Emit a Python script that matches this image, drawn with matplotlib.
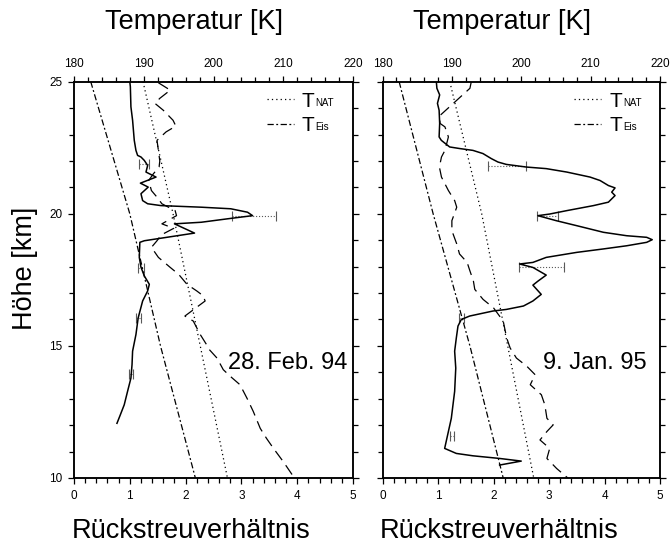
import matplotlib
matplotlib.use("Agg")
import matplotlib.pyplot as plt
from matplotlib.lines import Line2D
from matplotlib.ticker import MultipleLocator

plt.rcParams["font.family"] = ["Liberation Sans", "DejaVu Sans"]

# ---- left panel: 28. Feb. 94 ----
left_h = [25.0, 24.81, 24.05, 23.54, 22.78, 22.40, 22.21, 22.15, 22.02, 21.83,
          21.58, 21.39, 21.16, 21.01, 20.76, 20.50, 20.38, 20.31, 20.25, 20.19,
          20.06, 19.93, 19.81, 19.68, 19.62, 19.27, 18.98, 18.92, 18.35, 17.98,
          17.65, 17.33, 17.08, 16.70, 16.06, 15.43, 14.80, 14.29, 13.78, 13.28,
          12.77, 12.39, 12.07]
left_ratio = [1.00, 1.01, 1.02, 1.05, 1.08, 1.11, 1.14, 1.20, 1.26, 1.32,
              1.29, 1.47, 1.19, 1.33, 1.20, 1.23, 1.32, 1.56, 2.28, 2.81,
              3.11, 3.20, 2.75, 2.28, 1.80, 2.16, 1.26, 1.18, 1.17, 1.20,
              1.26, 1.35, 1.32, 1.23, 1.15, 1.11, 1.05, 1.04, 1.02, 0.96,
              0.90, 0.83, 0.77]

left_temp_h = [24.96, 24.68, 24.37, 24.18, 23.92, 23.54, 23.32, 23.10, 22.78, 22.40,
               22.00, 21.77, 21.52, 21.26, 20.88, 20.63, 20.38, 20.12, 19.93, 19.62,
               19.45, 19.20, 18.98, 18.73, 18.35, 17.97, 17.71, 17.33, 17.08, 16.90,
               16.70, 16.13, 15.94, 15.43, 15.05, 14.86, 14.54, 14.10, 13.85, 13.53,
               13.02, 12.52, 11.88, 11.50, 11.12, 10.62, 10.00]
left_temp = [192.1, 193.8, 192.3, 191.6, 192.8, 194.2, 194.6, 193.2, 191.9, 192.1,
             192.3, 192.2, 191.4, 190.7, 191.1, 191.9, 192.6, 194.5, 194.7, 192.6,
             194.3, 192.5, 191.9, 191.1, 192.1, 193.8, 195.0, 196.2, 197.6, 198.5,
             198.8, 195.9, 197.1, 198.1, 199.0, 199.4, 200.5, 201.4, 202.4, 203.8,
             204.8, 205.7, 206.7, 207.6, 208.6, 210.0, 211.6]

left_nat_h = [25.0, 20.0, 10.0]
left_nat = [189.9, 194.2, 202.0]
left_ice_h = [25.0, 20.0, 15.0, 10.0]
left_ice = [182.4, 188.0, 192.4, 197.4]

left_err_h = [21.9, 19.93, 17.95, 16.05, 13.95]
left_err_lo = [1.17, 2.84, 1.15, 1.12, 0.98]
left_err_hi = [1.35, 3.62, 1.25, 1.20, 1.06]

# ---- right panel: 9. Jan. 95 ----
right_h = [25.0, 24.75, 24.50, 24.18, 23.92, 23.42, 22.91, 22.78, 22.53, 22.47,
           22.40, 22.28, 22.09, 21.96, 21.87, 21.77, 21.71, 21.58, 21.39, 21.26,
           21.07, 20.98, 20.82, 20.69, 20.44, 20.31, 20.12, 19.99, 19.93, 19.74,
           19.55, 19.30, 19.17, 19.11, 19.02, 18.92, 18.79, 18.67, 18.54, 18.35,
           18.16, 18.10, 17.97, 17.68, 17.45, 17.30, 16.95, 16.70, 16.51, 16.38,
           16.32, 16.13, 16.00, 15.75, 15.30, 14.80, 14.16, 13.28, 12.26, 11.12,
           10.93, 10.84, 10.74, 10.64, 10.49]
right_ratio = [0.97, 0.98, 1.03, 0.99, 1.02, 1.03, 1.02, 1.06, 1.21, 1.39,
               1.63, 1.81, 1.96, 2.08, 2.23, 2.59, 2.95, 3.32, 3.74, 3.92,
               4.07, 4.19, 4.13, 4.19, 4.07, 3.80, 3.32, 3.01, 2.80, 3.13,
               3.50, 3.98, 4.40, 4.76, 4.86, 4.76, 4.40, 3.98, 3.50, 2.95,
               2.71, 2.47, 2.71, 2.95, 2.80, 2.71, 2.86, 2.71, 2.54, 2.23,
               1.99, 1.57, 1.42, 1.36, 1.33, 1.30, 1.32, 1.30, 1.24, 1.12,
               1.33, 1.63, 2.11, 2.50, 2.11]

right_temp_h = [25.0, 24.75, 23.70, 23.42, 23.29, 22.91, 22.40, 22.15, 21.77, 21.39,
                20.88, 20.50, 20.25, 19.74, 19.36, 18.86, 18.48, 18.16, 17.84, 17.46,
                17.14, 16.76, 16.44, 15.94, 15.30, 14.92, 14.54, 14.23, 13.91, 13.53,
                13.15, 12.77, 12.26, 12.01, 11.76, 11.44, 11.12, 10.74, 10.36, 9.98]
right_temp = [192.8, 192.6, 188.2, 188.3, 189.0, 189.5, 189.0, 188.5, 188.2, 188.5,
              189.5, 190.4, 190.7, 190.0, 190.0, 190.7, 191.1, 192.2, 192.6, 193.1,
              193.3, 194.5, 196.0, 197.4, 197.9, 198.4, 199.3, 200.8, 202.0, 201.3,
              202.9, 203.4, 203.7, 204.6, 203.7, 202.7, 204.1, 203.7, 205.1, 206.8]

right_nat_h = [25.0, 20.0, 10.0]
right_nat = [189.7, 194.3, 201.8]
right_ice_h = [25.0, 20.0, 15.0, 10.0]
right_ice = [182.4, 187.3, 192.6, 197.4]

right_err_h = [21.8, 19.93, 17.97, 16.05, 11.6]
right_err_lo = [1.90, 2.78, 2.46, 1.38, 1.22]
right_err_hi = [2.59, 3.16, 3.27, 1.46, 1.28]

dates = ["28. Feb. 94", "9. Jan. 95"]
legend_subs = ["NAT", "Eis"]

STYLE_TEMP = dict(color="black", lw=0.9, dashes=(9, 5))
STYLE_NAT = dict(color="black", lw=0.9, dashes=(1, 2.5))
STYLE_ICE = dict(color="black", lw=0.9, dashes=(5, 2, 1.5, 2))


def draw_panel(ax, h, ratio, th, temp, nh, nat, ih, ice, eh, elo, ehi, date, show_y):
    axT = ax.twiny()
    ax.plot(ratio, h, color="black", lw=1.1, zorder=3)
    mid = [(a + b) / 2 for a, b in zip(elo, ehi)]
    half = [(b - a) / 2 for a, b in zip(elo, ehi)]
    eb = ax.errorbar(mid, eh, xerr=half, fmt="none", ecolor="0.35",
                     elinewidth=0.8, capsize=3.5, capthick=0.8, zorder=2)
    eb[2][0].set_linestyle(":")

    axT.plot(temp, th, **STYLE_TEMP)
    axT.plot(nat, nh, **STYLE_NAT)
    axT.plot(ice, ih, **STYLE_ICE)

    ax.set_xlim(0, 5)
    ax.set_ylim(10, 25)
    axT.set_xlim(180, 220)
    ax.xaxis.set_major_locator(MultipleLocator(1))
    ax.xaxis.set_minor_locator(MultipleLocator(0.2))
    ax.yaxis.set_major_locator(MultipleLocator(5))
    ax.yaxis.set_minor_locator(MultipleLocator(1))
    axT.xaxis.set_major_locator(MultipleLocator(10))
    axT.xaxis.set_minor_locator(MultipleLocator(2))

    for a in (ax, axT):
        for s in a.spines.values():
            s.set_linewidth(1.1)
    ax.tick_params(which="both", direction="out", right=True, labelsize=8.5,
                   labelleft=show_y, width=0.9)
    ax.tick_params(which="major", length=4.5, pad=4)
    ax.tick_params(which="minor", length=3.5)
    axT.tick_params(which="both", direction="out", labelsize=8.5, width=0.9)
    axT.tick_params(which="major", length=4.5, pad=4)
    axT.tick_params(which="minor", length=3.5)

    ax.text(0.765, 0.29, date, transform=ax.transAxes, fontsize=17,
            ha="center", va="center")

    handles = [Line2D([], [], **STYLE_NAT), Line2D([], [], **STYLE_ICE)]
    leg = axT.legend(handles, ["T", "T"], loc="upper left",
                     bbox_to_anchor=(0.69, 0.975), frameon=False, fontsize=15,
                     handlelength=1.3, handletextpad=0.4, borderpad=0,
                     borderaxespad=0, labelspacing=0.25)
    return leg


fig = plt.figure(figsize=(6.71, 5.48), dpi=100)
ax1 = fig.add_axes([74 / 671, 1 - 478 / 548, 279 / 671, 396.3 / 548])
ax2 = fig.add_axes([382.5 / 671, 1 - 478 / 548, 277.5 / 671, 396.3 / 548])

legs = [
    draw_panel(ax1, left_h, left_ratio, left_temp_h, left_temp, left_nat_h, left_nat,
               left_ice_h, left_ice, left_err_h, left_err_lo, left_err_hi, dates[0], True),
    draw_panel(ax2, right_h, right_ratio, right_temp_h, right_temp, right_nat_h, right_nat,
               right_ice_h, right_ice, right_err_h, right_err_lo, right_err_hi, dates[1], False),
]

# titles (placed in figure pixels)
W, H = 671, 548
for cx in (194, 502):
    fig.text(cx / W, 1 - 22 / H, "Temperatur [K]", fontsize=19.5, ha="center", va="center")
    fig.text((cx - 3) / W, 1 - 531 / H, "Rückstreuverhältnis", fontsize=19.5,
             ha="center", va="center")
fig.text(25 / W, 1 - 268 / H, "Höhe [km]", fontsize=19.5, rotation=90,
         ha="center", va="center")

# small subscripts next to the legend "T"
fig.canvas.draw()
for leg in legs:
    for t, sub in zip(leg.get_texts(), legend_subs):
        bb = t.get_window_extent()
        fig.text((bb.x1 + 1) / W, (bb.y0 + 2.5) / H, sub, fontsize=7,
                 ha="left", va="bottom")

fig.savefig("out.png", dpi=100)
